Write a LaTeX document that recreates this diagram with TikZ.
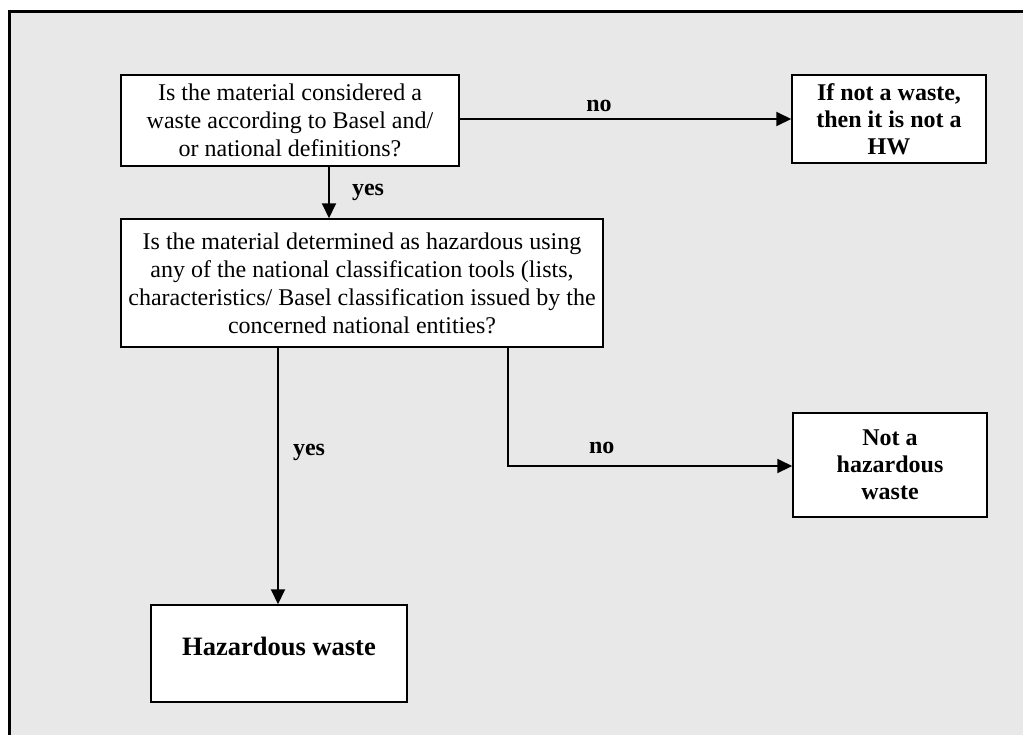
\documentclass[tikz,border=0pt]{standalone}
\usepackage{fontspec}
\setmainfont{Liberation Serif}
\usetikzlibrary{arrows.meta}
\begin{document}
\begin{tikzpicture}[x=1pt,y=-1pt,
  box/.style={draw=black, line width=1.5pt, fill=white, align=center, inner sep=0pt,
    font=\fontsize{24}{28}\selectfont},
  bbox/.style={box, font=\fontsize{24}{27}\selectfont\bfseries},
  arr/.style={line width=2pt, -{Triangle[length=15pt,width=14pt]}},
  lbl/.style={font=\fontsize{24}{26}\selectfont\bfseries, inner sep=0pt}]
\useasboundingbox (0,0) rectangle (1023,734);
\begin{scope}
\clip (0,0) rectangle (1023,734);
\fill[white] (0,0) rectangle (1023,734);
\fill[gray!18] (9,11) rectangle (1040,750);
\draw[line width=3pt] (9.5,750) -- (9.5,11.5) -- (1040,11.5);
\end{scope}

\node[box, minimum width=338pt, minimum height=91pt] (q1) at (290,120.5)
  {Is the material considered a\\waste according to Basel and/\\or national definitions?};
\node[bbox, minimum width=194pt, minimum height=88pt] (nw) at (889,119)
  {If not a waste,\\then it is not a\\HW};
\node[box, minimum width=482pt, minimum height=128pt] (q2) at (362,283)
  {Is the material determined as hazardous using\\any of the national classification tools (lists,\\characteristics/ Basel classification issued by the\\concerned national entities?};
\node[box, font=\fontsize{26.5}{30}\selectfont\bfseries, minimum width=256pt, minimum height=97pt, text depth=14pt] (hw) at (279,653.5)
  {Hazardous waste};
\node[bbox, minimum width=194pt, minimum height=104pt] (nh) at (890,465)
  {Not a\\hazardous\\waste};

\draw[arr] (q1.east |- nw.west) -- (nw.west) node[lbl, pos=0.42, above=6pt] {no};
\draw[arr] (q1.south -| 329,0) -- (q2.north -| 329,0) node[lbl, midway, right=22pt] {yes};
\draw[arr] (q2.south -| 278,0) -- (hw.north -| 278,0) node[lbl, pos=0.41, right=14pt] {yes};
\coordinate (corner) at (508,466);
\draw[arr] (q2.south -| corner) -- (corner) -- (nh.west |- corner) node[lbl, pos=0.33, above=11pt] {no};
\end{tikzpicture}
\end{document}
